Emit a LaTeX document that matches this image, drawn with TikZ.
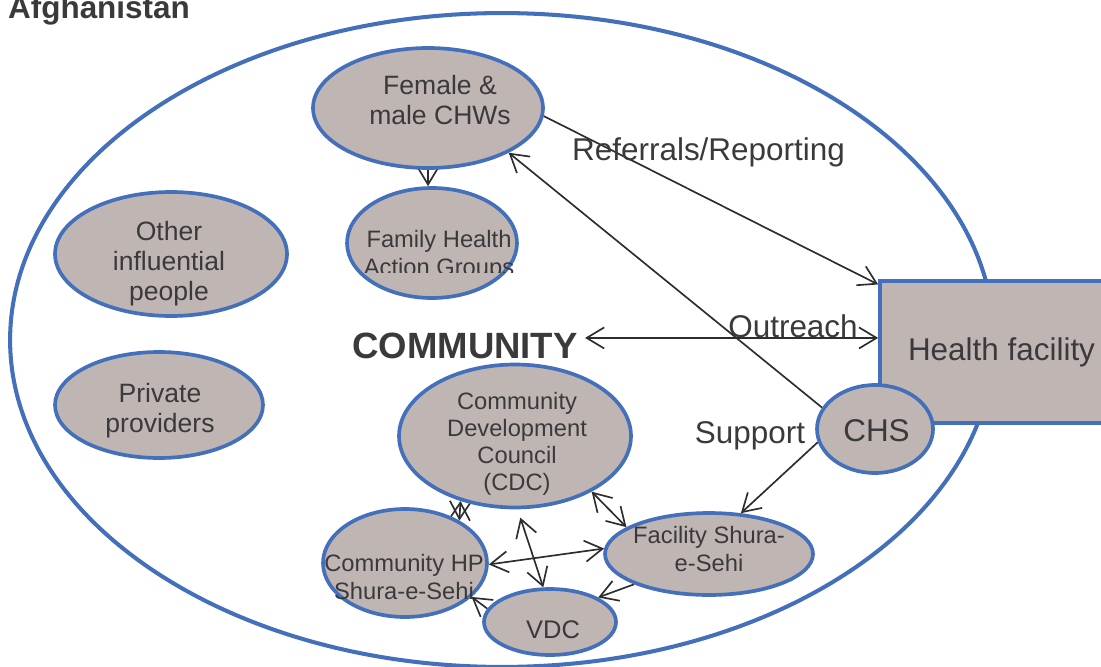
\documentclass[tikz,border=0pt]{standalone}
\usepackage{fontspec}
\setmainfont{Liberation Sans}
\usepackage{tikz}
\definecolor{frame}{RGB}{68,111,186}
\definecolor{blob}{RGB}{191,182,179}
\definecolor{ink}{RGB}{58,58,60}
\definecolor{wire}{RGB}{45,45,48}
\usetikzlibrary{arrows.meta}
\usetikzlibrary{shapes.geometric}
\pgfdeclarelayer{edgelayer}
\pgfdeclarelayer{nodelayer}
\pgfsetlayers{edgelayer,nodelayer,main}
\tikzstyle{group}=[ellipse,fill=blob,draw=frame,line width=2.1pt,inner sep=0pt]
\tikzstyle{box}=[rectangle,fill=blob,draw=frame,line width=2.1pt,inner sep=0pt]
\tikzstyle{txt}=[text=ink,align=center,inner sep=0pt]
\tikzstyle{lbl}=[txt,font=\fontsize{17.9}{20}\selectfont]
\tikzstyle{mid}=[txt,font=\fontsize{15.1}{17.1}\selectfont]
\tikzstyle{sml}=[txt,font=\fontsize{13.5}{15.5}\selectfont]
\tikzstyle{link}=[draw=wire,line width=0.95pt]

\begin{document}
\begin{tikzpicture}[x=0.02cm,y=-0.02cm,>={Straight Barb[length=10pt,width=12pt]}]
            \useasboundingbox (0,0) rectangle (1101,666);

            \begin{pgfonlayer}{nodelayer}
            \node [style = group, minimum width=4.6cm, minimum height=2.4cm] (chw) at (428,108) {};
            \node [style = group, minimum width=3.4cm, minimum height=2.2cm] (fhag) at (432,243) {};
            \node [style = group, minimum width=4.64cm, minimum height=2.48cm] (oip) at (171,254) {};
            \node [style = group, minimum width=4.16cm, minimum height=2.12cm] (pp) at (159,405) {};

            \node [style = group, minimum width=4.64cm, minimum height=2.86cm] (cdc) at (515,436) {};
            \node [style = group, minimum width=3.28cm, minimum height=2.16cm] (chp) at (405,563) {};
            \node [style = group, minimum width=4.16cm, minimum height=1.64cm] (fs) at (709,554) {};
            \node [style = group, minimum width=2.64cm, minimum height=1.32cm] (vdc) at (550,622) {};

            \node [style = box, minimum width=4.86cm, minimum height=2.84cm, lbl] (hf) at (1001.5,352) {Health facility};
            \node [style = group, minimum width=2.32cm, minimum height=1.76cm] (chs) at (875,429) {};
            \end{pgfonlayer}

            % texts of the groups
            \node [style = mid] (chwtext) at (440,100) {Female \&\\male CHWs};
            \begin{scope}
                \clip (340,180) rectangle (530,272);
                \node [style = sml] (fhagtext) at (439,255.4) {Family Health\\Action Groups};
            \end{scope}
            \node [style = mid] (oiptext) at (169,263.6) {Other\\influential\\people};
            \node [style = mid] (pptext) at (160,410.5) {Private\\providers};
            \node [style = sml] (cdctext) at (517,444) {Community\\Development\\Council\\(CDC)};
            \node [style = sml] (chptext) at (404,577) {Community HP\\Shura-e-Sehi};
            \node [style = sml] (fstext) at (709,548.9) {Facility Shura-\\e-Sehi};
            \node [txt, font=\fontsize{14.5}{16}\selectfont] (vdctext) at (553,629.5) {VDC};
            \node [style = lbl] (chstext) at (876.5,431) {CHS};

            \node [txt, font=\fontsize{17.9}{20}\selectfont\bfseries] (country) at (99,10.5) {Afghanistan};
            \node [txt, font=\fontsize{20.8}{23}\selectfont\bfseries] (community) at (465,345.5) {COMMUNITY};

            \node [style = lbl] (referrals) at (708.5,152) {Referrals/Reporting};
            \node [style = lbl] (outreach) at (793,326) {Outreach};
            \node [style = lbl] (support) at (750,436) {Support};

        \begin{pgfonlayer}{edgelayer}
            \draw [draw=frame, line width=2.3pt] (502,340) ellipse [x radius=9.84cm, y radius=6.54cm];

            \draw [->, link] (chw.-4) to ([yshift=-3pt]hf.north west);
            \draw [->, link] (chs.158) to (chw.-29);
            \draw [<->, link, shorten <=4pt] ([yshift=4.3pt]community.east) to ([yshift=4.3pt]community.east -| hf.west);
            \draw [->, link] (chs.193) to (fs.52);
            \draw [->, link] (chw.south) to (chw.south |- fhag.north);

            \draw [<->, link] (cdc.230) to (chp.38);
            \draw [<->, link] (cdc.-36) to (fs.162);
            \draw [<->, link, shorten <=5pt] (cdc.-88) to (vdc.101);
            \draw [<->, link] (chp.-1) to (fs.177);
            \draw [->, link] (fs.-158) to (vdc.27);
            \draw [->, link] (vdc.168) to (chp.-27);
        \end{pgfonlayer}
    \end{tikzpicture}
\end{document}
